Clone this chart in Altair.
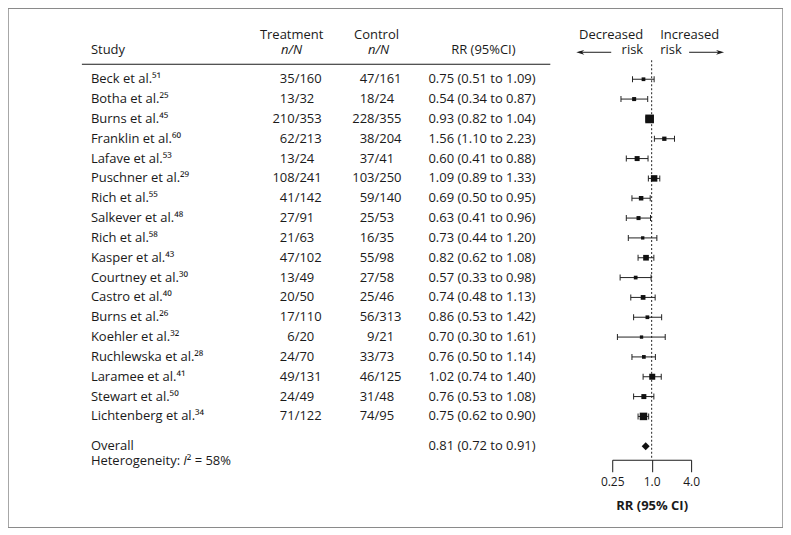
import altair as alt
import pandas as pd

# ---------------- data ----------------
studies = ["Beck et al.", "Botha et al.", "Burns et al.", "Franklin et al.", "Lafave et al.",
           "Puschner et al.", "Rich et al.", "Salkever et al.", "Rich et al.", "Kasper et al.",
           "Courtney et al.", "Castro et al.", "Burns et al.", "Koehler et al.",
           "Ruchlewska et al.", "Laramee et al.", "Stewart et al.", "Lichtenberg et al."]
refs = ["51", "25", "45", "60", "53", "29", "55", "48", "58", "43",
        "30", "40", "26", "32", "28", "41", "50", "34"]
treat_n = [35, 13, 210, 62, 13, 108, 41, 27, 21, 47, 13, 20, 17, 6, 24, 49, 24, 71]
treat_N = [160, 32, 353, 213, 24, 241, 142, 91, 63, 102, 49, 50, 110, 20, 70, 131, 49, 122]
ctrl_n = [47, 18, 228, 38, 37, 103, 59, 25, 16, 55, 27, 25, 56, 9, 33, 46, 31, 74]
ctrl_N = [161, 24, 355, 204, 41, 250, 140, 53, 35, 98, 58, 46, 313, 21, 73, 125, 48, 95]
rr = [0.75, 0.54, 0.93, 1.56, 0.60, 1.09, 0.69, 0.63, 0.73, 0.82, 0.57, 0.74, 0.86, 0.70,
      0.76, 1.02, 0.76, 0.75]
rr_lo = [0.51, 0.34, 0.82, 1.10, 0.41, 0.89, 0.50, 0.41, 0.44, 0.62, 0.33, 0.48, 0.53, 0.30,
         0.50, 0.74, 0.53, 0.62]
rr_hi = [1.09, 0.87, 1.04, 2.23, 0.88, 1.33, 0.95, 0.96, 1.20, 1.08, 0.98, 1.13, 1.42, 1.61,
         1.14, 1.40, 1.08, 0.90]
weight = [3.0, 3.5, 16.4, 4.0, 5.4, 9.1, 4.4, 3.5, 2.4, 7.0, 3.0, 4.8, 3.0, 2.4, 3.0, 7.8,
          5.4, 12.2]
overall_rr = 0.81
overall_lo = 0.72
overall_hi = 0.91
i2_value = 58
x_ticks = [0.25, 1.0, 4.0]

# ---------------- tables ----------------
SUP = str.maketrans("0123456789", "⁰¹²³⁴⁵⁶⁷⁸⁹")
rows = pd.DataFrame({
    "row": list(range(len(studies))),
    "label": [s + r.translate(SUP) for s, r in zip(studies, refs)],
    "tn": [str(v) for v in treat_n],
    "tN": ["/" + str(v) for v in treat_N],
    "cn": [str(v) for v in ctrl_n],
    "cN": ["/" + str(v) for v in ctrl_N],
    "rr": rr, "lo": rr_lo, "hi": rr_hi,
    "ci": [f"{a:.2f} ({b:.2f} to {c:.2f})" for a, b, c in zip(rr, rr_lo, rr_hi)],
    "weight": weight,
})
ov_row = len(studies) + 0.5
overall = pd.DataFrame({
    "row": [ov_row], "rr": [overall_rr], "lo": [overall_lo], "hi": [overall_hi],
    "ci": [f"{overall_rr:.2f} ({overall_lo:.2f} to {overall_hi:.2f})"],
    "label": ["Overall"], "het": ["Heterogeneity:"], "i2": ["² = " + str(i2_value) + "%"],
})
one = pd.DataFrame({"a": [0]})
ref = pd.DataFrame({"v": [1.0]})
ticks = pd.DataFrame({"v": x_ticks})

FONT = "Open Sans"
INK = "#1a1a1a"
FS = 13

yscale = alt.Scale(domain=[0, 17], range=[71, 408.6], nice=False, zero=False)
yenc = alt.Y("row:Q", scale=yscale, axis=None)
xscale = alt.Scale(type="log", base=2, domain=[0.25, 4], range=[605, 684], nice=False)

def txt(data, align="left", **kw):
    return alt.Chart(data).mark_text(align=align, baseline="middle", font=FONT,
                                     fontSize=kw.pop("fontSize", FS), color=INK, **kw)

def label(text, x, y, align="left", **kw):
    return txt(one, align=align, text=text, **kw).encode(x=alt.value(x), y=alt.value(y))

# table columns
study_l = txt(rows).encode(x=alt.value(83), y=yenc, text="label:N")
tn_l = txt(rows, align="right").encode(x=alt.value(287), y=yenc, text="tn:N")
tN_l = txt(rows).encode(x=alt.value(287), y=yenc, text="tN:N")
cn_l = txt(rows, align="right").encode(x=alt.value(367), y=yenc, text="cn:N")
cN_l = txt(rows).encode(x=alt.value(367), y=yenc, text="cN:N")
ci_l = txt(rows).encode(x=alt.value(421), y=yenc, text="ci:N")

ov_l = txt(overall).encode(x=alt.value(83), y=yenc, text="label:N")
ov_ci = txt(overall).encode(x=alt.value(421), y=yenc, text="ci:N")
het_l = txt(overall, dy=15).encode(x=alt.value(83), y=yenc, text="het:N")
het_i = txt(overall, dy=15, fontStyle="italic", text="I").encode(x=alt.value(175.5), y=yenc)
het_2 = txt(overall, dy=15).encode(x=alt.value(179), y=yenc, text="i2:N")

# headers
headers = [
    label("Study", 83, 42),
    label("Treatment", 284, 27, align="center"),
    label("n/N", 284, 42, align="center", fontStyle="italic"),
    label("Control", 369, 27, align="center"),
    label("n/N", 371, 42, align="center", fontStyle="italic"),
    label("RR (95%CI)", 476, 42, align="center"),
    label("Decreased", 636, 27, align="right"),
    label("risk", 636, 42, align="right"),
    label("Increased", 653, 27),
    label("risk", 653, 42),
]
head_rule = alt.Chart(one).mark_rule(color=INK, strokeWidth=1).encode(
    x=alt.value(74), x2=alt.value(543), y=alt.value(56))

# arrows
arrow_l = alt.Chart(one).mark_rule(color=INK, strokeWidth=1).encode(
    x=alt.value(572), x2=alt.value(604), y=alt.value(44))
arrow_r = alt.Chart(one).mark_rule(color=INK, strokeWidth=1).encode(
    x=alt.value(682), x2=alt.value(714), y=alt.value(44))
head_l = alt.Chart(one).mark_point(shape="M-1,0L1,-0.6L0.4,0L1,0.6Z", filled=True, size=64,
                                   color=INK, opacity=1).encode(x=alt.value(573), y=alt.value(44))
head_r = alt.Chart(one).mark_point(shape="M1,0L-1,-0.6L-0.4,0L-1,0.6Z", filled=True, size=64,
                                   color=INK, opacity=1).encode(x=alt.value(713), y=alt.value(44))

# forest plot
xaxis = alt.Axis(values=x_ticks, orient="bottom", offset=-68, grid=False,
                 labelExpr="datum.value == 0.25 ? '0.25' : format(datum.value, '.1f')",
                 title="RR (95% CI)", titleFont=FONT, titleFontSize=13, titleFontWeight="bold",
                 titleColor=INK, titleY=46, titleBaseline="middle",
                 labelFont=FONT, labelFontSize=12, labelColor=INK, labelPadding=5,
                 labelFlush=False, labelOverlap=False,
                 tickSize=12, tickColor=INK, tickWidth=1, domainColor=INK, domainWidth=1)

def xq(field):
    return alt.X(field, type="quantitative", scale=xscale, axis=xaxis)

axis_holder = alt.Chart(ticks).mark_tick(opacity=0).encode(x=xq("v"), y=alt.value(452))
whisk = alt.Chart(rows).mark_rule(color="#222", strokeWidth=1).encode(
    x=xq("lo"), x2="hi:Q", y=yenc)
cap_lo = alt.Chart(rows).mark_tick(orient="vertical", size=6, thickness=1, color="#222",
                                   opacity=1).encode(x=xq("lo"), y=yenc)
cap_hi = alt.Chart(rows).mark_tick(orient="vertical", size=6, thickness=1, color="#222",
                                   opacity=1).encode(x=xq("hi"), y=yenc)
squares = alt.Chart(rows).mark_square(color="#111", opacity=1).encode(
    x=xq("rr"), y=yenc,
    size=alt.Size("weight:Q", scale=alt.Scale(domain=[0, 16.4], range=[0, 76]), legend=None))
diamond = alt.Chart(overall).mark_point(shape="diamond", filled=True, size=64, color="#111",
                                        opacity=1).encode(x=xq("rr"), y=yenc)
ref_line = alt.Chart(ref).mark_rule(color="#222", strokeWidth=1, strokeDash=[2, 2]).encode(
    x=xq("v"), y=alt.value(52), y2=alt.value(452))

chart = alt.layer(
    axis_holder, whisk, ref_line, cap_lo, cap_hi, squares, diamond,
    study_l, tn_l, tN_l, cn_l, cN_l, ci_l, ov_l, ov_ci, het_l, het_i, het_2,
    head_rule, arrow_l, arrow_r, head_l, head_r, *headers,
).properties(
    width=776, height=520, padding=0, autosize=alt.AutoSizeParams(type="none"),
    background="white",
).configure_view(stroke="#8a8a8a", strokeWidth=1.5)

chart.save("out.html", embed_options={"renderer": "svg", "actions": False})
